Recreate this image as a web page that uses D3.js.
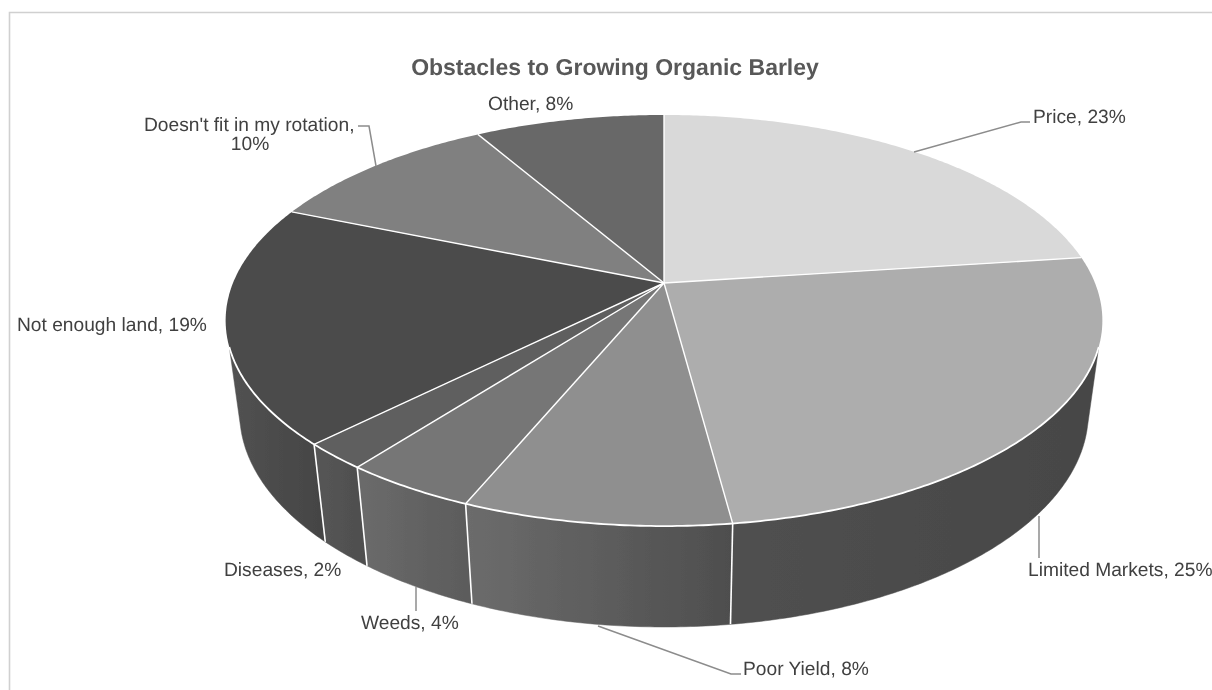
<!DOCTYPE html>
<html><head><meta charset="utf-8">
<script src="https://cdn.jsdelivr.net/npm/d3@7"></script>
<style>html,body{margin:0;padding:0;background:#fff}svg{display:block}text{font-family:"Liberation Sans",Arial,sans-serif;text-rendering:geometricPrecision}</style>
</head><body><div id="chart"></div>
<script>
const categories = ["Price","Limited Markets","Poor Yield","Weeds","Diseases","Not enough land","Doesn't fit in my rotation","Other"];
const responses  = [11,12,4,2,1,9,5,4];
const topColors  = ["#d9d9d9","#adadad","#8f8f8f","#767676","#5e5e5e","#4b4b4b","#808080","#686868"];
const wallStops  = [null,["#505050","#464646"],["#6c6c6c","#4e4e4e"],["#6b6b6b","#5b5b5b"],["#565656","#4e4e4e"],["#525252","#444444"],null,null];
const title = "Obstacles to Growing Organic Barley";

// label placement, in the order of the categories
const labelLayout = [
 {x:1033,y:123,anchor:"start",leader:[[914,152],[1021,122],[1030,122]]},
 {x:1028,y:576,anchor:"start",leader:[[1039,516],[1039,558]]},
 {x:743,y:675,anchor:"start",leader:[[598,626],[731,674],[741,674]]},
 {x:361,y:629,anchor:"start",leader:[[416,587],[416,611]]},
 {x:224,y:576,anchor:"start"},
 {x:17,y:331,anchor:"start"},
 {x:144,y:131,anchor:"start",wrapX:250,wrapY:150,leader:[[376,166],[369,126],[358,126]]},
 {x:488,y:110,anchor:"start"}
];

const W=1212,H=690;
const svg=d3.select("#chart").append("svg").attr("width",W).attr("height",H);
const defs=svg.append("defs");
defs.append("filter").attr("id","soft").attr("x",0).attr("y",0).attr("width","100%").attr("height","100%")
  .attr("filterUnits","userSpaceOnUse")
  .append("feGaussianBlur").attr("stdDeviation",0.4);
const root=svg.append("g").attr("filter","url(#soft)");
root.append("rect").attr("width",W).attr("height",H).attr("fill","#fff");
const total=d3.sum(responses);
const pct=d3.format(".0%");
const arcs=d3.pie().sort(null).value(d=>d)(responses);

// perspective view of the circular disc: top rim and bottom rim
const cx=664,b=0.1825;
const rims=[{base:283,A:431,C:198.7},{base:373.9,A:417.2,C:206.9}];
const project=(t,level)=>{
  const u=Math.sin(t),w=-Math.cos(t),k=1-b*w,r=rims[level];
  return [cx+r.A*u/k, r.base+r.C*w/k];
};
const line=d3.line();
const samples=(a0,a1,level)=>{
  const n=Math.max(2,Math.ceil(Math.abs(a1-a0)/0.01));
  return d3.range(n+1).map(i=>project(a0+(a1-a0)*i/n,level));
};
const rad=d=>d*Math.PI/180;
const topVis=[rad(107.7),rad(252.3)], botVis=[rad(104),rad(256)];

root.append("path").attr("d",`M9.5,690V12.5H1212`).attr("fill","none").attr("stroke","#d0d0d0").attr("stroke-width",1.6);

const walls=root.append("g");
arcs.forEach((d,i)=>{
  if(!wallStops[i])return;
  const t0=Math.max(d.startAngle,topVis[0]),t1=Math.min(d.endAngle,topVis[1]);
  const b0=Math.max(d.startAngle,botVis[0]),b1=Math.min(d.endAngle,botVis[1]);
  const pts=samples(t0,t1,0).concat(samples(b1,b0,1));
  const xs=d3.extent(pts,p=>p[0]);
  const g=defs.append("linearGradient").attr("id","w"+i).attr("gradientUnits","userSpaceOnUse")
    .attr("x1",xs[0]).attr("x2",xs[1]).attr("y1",0).attr("y2",0);
  g.append("stop").attr("offset",0).attr("stop-color",wallStops[i][0]);
  g.append("stop").attr("offset",1).attr("stop-color",wallStops[i][1]);
  walls.append("path").attr("d",line(pts)+"Z").attr("fill",`url(#w${i})`).attr("stroke",`url(#w${i})`).attr("stroke-width",0.5);
});
// seams on the wall
arcs.forEach(d=>{
  const a=d.endAngle;
  if(a>topVis[0]&&a<topVis[1]){
    walls.append("path").attr("d",line([project(a,0),project(a,1)])).attr("stroke","#ffffff").attr("stroke-width",1.6).attr("fill","none");
  }
});
// top faces
root.append("g").selectAll("path").data(arcs).join("path")
  .attr("d",d=>line([[cx,rims[0].base],...samples(d.startAngle,d.endAngle,0)])+"Z")
  .attr("fill",(d,i)=>topColors[i]).attr("stroke","none");
// spokes
const spokes=root.append("g");
arcs.forEach(d=>{
  spokes.append("path").attr("d",line([[cx,rims[0].base],project(d.startAngle,0)])).attr("stroke","#ffffff").attr("stroke-width",1.4).attr("fill","none");
});
spokes.append("path").attr("d",line(samples(topVis[0],topVis[1],0))).attr("stroke","#ffffff").attr("stroke-width",1.8).attr("fill","none");

// leaders
root.append("g").selectAll("path").data(labelLayout.filter(l=>l.leader)).join("path")
  .attr("d",l=>line(l.leader)).attr("fill","none").attr("stroke","#8c8c8c").attr("stroke-width",1.5);

// labels
categories.forEach((c,i)=>{
  const l=labelLayout[i],p=pct(responses[i]/total);
  const common=s=>s.attr("font-size",19.2).attr("fill","#404040");
  if(l.wrapX){
    root.append("text").attr("x",l.x).attr("y",l.y).text(c+",").call(common);
    root.append("text").attr("x",l.wrapX).attr("y",l.wrapY).attr("text-anchor","middle").text(p).call(common);
  } else {
    root.append("text").attr("x",l.x).attr("y",l.y).attr("text-anchor",l.anchor).text(c+", "+p).call(common);
  }
});
root.append("text").attr("x",615).attr("y",75).attr("text-anchor","middle").attr("font-size",23).attr("font-weight","bold").attr("fill","#595959").text(title);
</script></body></html>
